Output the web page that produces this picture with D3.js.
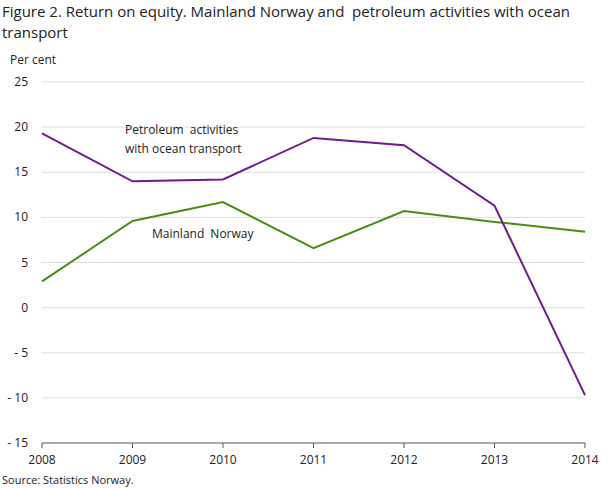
<!DOCTYPE html>
<html><head><meta charset="utf-8">
<script src="https://cdn.jsdelivr.net/npm/d3@7"></script>
<style>body{margin:0;background:#fff;font-family:"Open Sans",sans-serif;}</style>
</head><body><div id="chart"></div>
<script>
var years = [2008, 2009, 2010, 2011, 2012, 2013, 2014],
    petroleum = [19.3, 14.0, 14.2, 18.8, 18.0, 11.3, -9.7],
    mainland = [2.9, 9.6, 11.7, 6.6, 10.7, 9.5, 8.4],
    yTicks = [25, 20, 15, 10, 5, 0, -5, -10, -15];

var W = 609, H = 488,
    plotLeft = 42, plotRight = 585, plotTop = 82, plotBottom = 443;

var svg = d3.select("#chart").append("svg").attr("width", W).attr("height", H);

var x = d3.scaleLinear().domain([2008, 2014]).range([plotLeft, plotRight]);
var y = d3.scaleLinear().domain([-15, 25]).range([plotBottom, plotTop]);

svg.append("text").attr("x", 2).attr("y", 17).attr("font-size", 15).attr("fill", "#222")
  .attr("xml:space", "preserve")
  .text("Figure 2. Return on equity. Mainland Norway and  petroleum activities with ocean");
svg.append("text").attr("x", 2).attr("y", 38).attr("font-size", 15).attr("fill", "#222")
  .text("transport");
svg.append("text").attr("x", 10).attr("y", 64).attr("font-size", 12).attr("fill", "#222").text("Per cent");

// grid
svg.selectAll(".grid").data(yTicks).enter().append("line")
  .attr("x1", plotLeft).attr("x2", plotRight)
  .attr("y1", function(d){ return y(d); }).attr("y2", function(d){ return y(d); })
  .attr("stroke", function(d){ return d === -15 ? "#555" : "#ddd"; })
  .attr("stroke-width", 1);

svg.selectAll(".yl").data(yTicks).enter().append("text")
  .attr("x", 28).attr("y", function(d){ return y(d) + 4; })
  .attr("text-anchor", "end").attr("font-size", 12).attr("fill", "#222")
  .attr("xml:space", "preserve")
  .text(function(d){ return d < 0 ? "- " + (-d) : d; });

svg.selectAll(".xl").data(years).enter().append("text")
  .attr("x", function(d){ return x(d); }).attr("y", 464)
  .attr("text-anchor", "middle").attr("font-size", 12).attr("fill", "#222")
  .text(function(d){ return d; });

svg.selectAll(".xt").data(years).enter().append("line")
  .attr("x1", function(d){ return x(d); }).attr("x2", function(d){ return x(d); })
  .attr("y1", plotBottom).attr("y2", plotBottom + 5).attr("stroke", "#555");

var line = d3.line().x(function(d, i){ return x(years[i]); }).y(function(d){ return y(d); });

svg.append("path").datum(mainland).attr("d", line).attr("fill", "none")
  .attr("stroke", "#4a8c0f").attr("stroke-width", 2);
svg.append("path").datum(petroleum).attr("d", line).attr("fill", "none")
  .attr("stroke", "#701b8c").attr("stroke-width", 2);

svg.append("text").attr("x", 125).attr("y", 134).attr("font-size", 12).attr("fill", "#222")
  .attr("word-spacing", 3).text("Petroleum activities");
svg.append("text").attr("x", 125).attr("y", 153).attr("font-size", 12).attr("fill", "#222")
  .text("with ocean transport");
svg.append("text").attr("x", 152).attr("y", 238).attr("font-size", 12).attr("fill", "#222")
  .attr("word-spacing", 3).text("Mainland Norway");

svg.append("text").attr("x", 2).attr("y", 484).attr("font-size", 11).attr("fill", "#222")
  .text("Source: Statistics Norway.");
</script></body></html>
